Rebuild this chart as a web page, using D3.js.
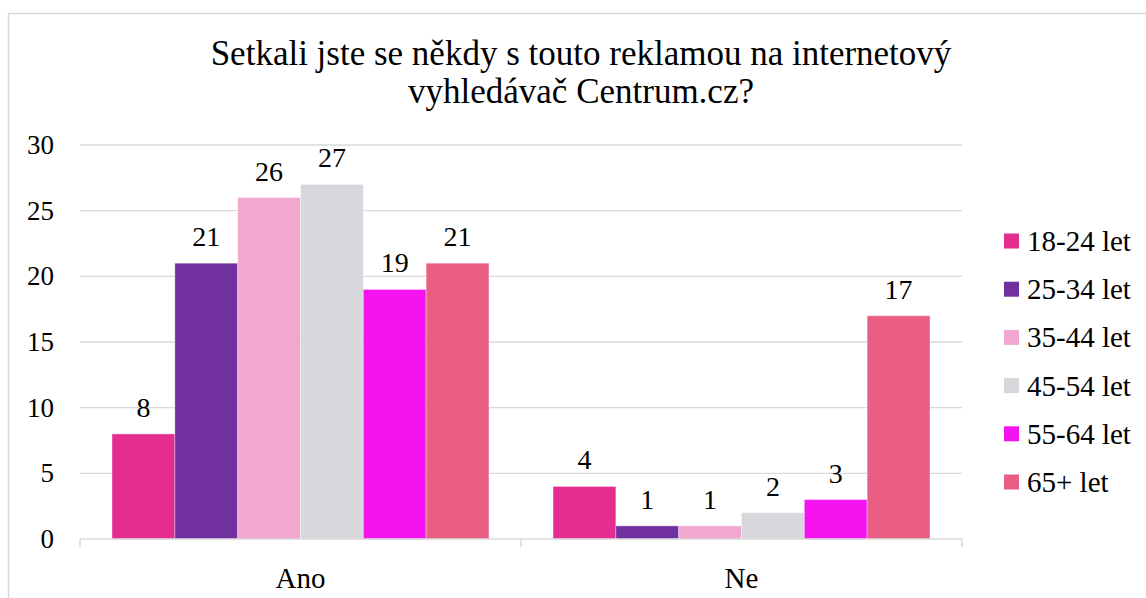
<!DOCTYPE html>
<html>
<head>
<meta charset="utf-8">
<script src="https://cdn.jsdelivr.net/npm/d3@7"></script>
<style>
  body { margin: 0; background: #fff; }
</style>
</head>
<body>
<script>
// data
const categories = ["Ano", "Ne"];
const groups = ["18-24 let", "25-34 let", "35-44 let", "45-54 let", "55-64 let", "65+ let"];
const colors = ["#e32d8f", "#7030a0", "#f2a7d0", "#d8d8dc", "#f513f0", "#ea5e84"];
const values = {
  "Ano": [8, 21, 26, 27, 19, 21],
  "Ne":  [4, 1, 1, 2, 3, 17]
};
const yTicks = [0, 5, 10, 15, 20, 25, 30];
const titleLines = ["Setkali jste se někdy s touto reklamou na internetový", "vyhledávač Centrum.cz?"];

const W = 1146, H = 598;
const plot = {left: 80, right: 962, top: 145, bottom: 539};
const FONT = "Liberation Serif, Times New Roman, serif";

const svg = d3.select("body").append("svg")
  .attr("width", W)
  .attr("height", H)
  .attr("font-family", FONT);

// chart frame
svg.append("rect")
  .attr("x", 8.5).attr("y", 13.5)
  .attr("width", W + 20).attr("height", H + 20)
  .attr("fill", "none")
  .attr("stroke", "#d9d9d9")
  .attr("stroke-width", 1.5);

let x0 = d3.scaleBand()
  .domain(categories)
  .range([plot.left, plot.right]);

let x1 = d3.scaleBand()
  .domain(groups)
  .range([0, x0.bandwidth()])
  .paddingOuter(0.51);

let y = d3.scaleLinear()
  .domain([0, 30])
  .range([plot.bottom, plot.top]);

// gridlines
svg.append("g")
  .selectAll("line")
  .data(yTicks.filter(d => d > 0))
  .join("line")
  .attr("x1", plot.left).attr("x2", plot.right)
  .attr("y1", d => y(d)).attr("y2", d => y(d))
  .attr("stroke", "#d9d9d9")
  .attr("stroke-width", 1.3);

// y labels
svg.append("g")
  .selectAll("text")
  .data(yTicks)
  .join("text")
  .attr("x", 54)
  .attr("y", d => y(d) + 9)
  .attr("text-anchor", "end")
  .attr("font-size", 27)
  .text(d => d);

// bars
let groupSel = svg.append("g")
  .selectAll("g")
  .data(categories)
  .join("g")
  .attr("transform", d => "translate(" + x0(d) + ",0)");

groupSel.selectAll("rect")
  .data(c => values[c].map((v, i) => ({key: groups[i], v: v, c: colors[i]})))
  .join("rect")
  .attr("x", d => x1(d.key))
  .attr("width", x1.bandwidth())
  .attr("y", d => y(d.v))
  .attr("height", d => y(0) - y(d.v))
  .attr("fill", d => d.c)
  .attr("stroke", "#fff")
  .attr("stroke-opacity", 0.35)
  .attr("stroke-width", 1);

groupSel.selectAll("text")
  .data(c => values[c].map((v, i) => ({key: groups[i], v: v})))
  .join("text")
  .attr("x", d => x1(d.key) + x1.bandwidth() / 2)
  .attr("y", d => y(d.v) - 17)
  .attr("text-anchor", "middle")
  .attr("font-size", 28)
  .text(d => d.v);

// x axis
let xAxis = svg.append("g");
xAxis.append("line")
  .attr("x1", plot.left).attr("x2", plot.right)
  .attr("y1", plot.bottom).attr("y2", plot.bottom)
  .attr("stroke", "#d9d9d9").attr("stroke-width", 1.5);
xAxis.selectAll(".tk")
  .data([plot.left, x0("Ne"), plot.right])
  .join("line")
  .attr("x1", d => d).attr("x2", d => d)
  .attr("y1", plot.bottom).attr("y2", plot.bottom + 8)
  .attr("stroke", "#d9d9d9").attr("stroke-width", 1.5);
xAxis.selectAll("text")
  .data(categories)
  .join("text")
  .attr("x", d => x0(d) + x0.bandwidth() / 2)
  .attr("y", 588)
  .attr("text-anchor", "middle")
  .attr("font-size", 29)
  .text(d => d);

// title
svg.append("text")
  .attr("text-anchor", "middle")
  .attr("font-size", 35)
  .selectAll("tspan")
  .data(titleLines)
  .join("tspan")
  .attr("x", 581)
  .attr("y", (d, i) => 65 + i * 38)
  .text(d => d);

// legend
let legend = svg.append("g")
  .selectAll("g")
  .data(groups)
  .join("g")
  .attr("transform", (d, i) => "translate(1004," + (241 + i * 48.2) + ")");
legend.append("rect")
  .attr("x", 0).attr("y", -7.5)
  .attr("width", 15).attr("height", 15)
  .attr("fill", (d, i) => colors[i]);
legend.append("text")
  .attr("x", 23)
  .attr("y", 10)
  .attr("font-size", 29)
  .text(d => d);
</script>
</body>
</html>
